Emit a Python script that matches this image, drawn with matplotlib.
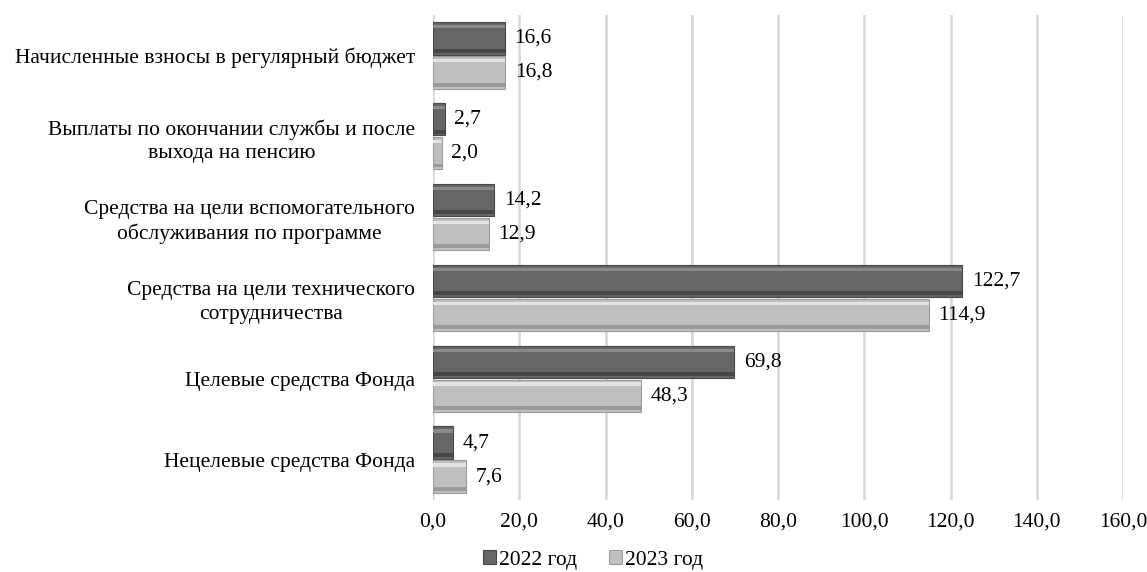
import matplotlib
matplotlib.use("Agg")
import matplotlib.pyplot as plt
import numpy as np

categories = [
    "Начисленные взносы в регулярный бюджет",
    "Выплаты по окончании службы и после\nвыхода на пенсию",
    "Средства на цели вспомогательного\nобслуживания по программе",
    "Средства на цели технического\nсотрудничества",
    "Целевые средства Фонда",
    "Нецелевые средства Фонда",
]
values_2022 = [16.6, 2.7, 14.2, 122.7, 69.8, 4.7]
values_2023 = [16.8, 2.0, 12.9, 114.9, 48.3, 7.6]
series_names = ["2022 год", "2023 год"]
xticks = [0, 20, 40, 60, 80, 100, 120, 140, 160]

plt.rcParams['font.family'] = ['Liberation Serif', 'DejaVu Serif']
FS = 15.5

fig = plt.figure(figsize=(11.47, 5.72), dpi=100)
ax = fig.add_axes([433/1147, 1 - 500/572, 690/1147, 485/572])

n = len(categories)
y = np.arange(n)[::-1].astype(float)
h = 0.40
gap = 0.02
y1 = y + (h + gap) / 2
y2 = y - (h + gap) / 2

def bevel_bars(ypos, vals, face, light, dark, label):
    ax.barh(ypos, vals, height=h, color=face, edgecolor=dark, linewidth=0.8, zorder=3, label=label)
    ax.barh(ypos + h * 0.36, vals, height=h * 0.1, color=light, linewidth=0, zorder=4)
    ax.barh(ypos - h * 0.38, vals, height=h * 0.12, color=dark, linewidth=0, zorder=4)

bevel_bars(y1, values_2022, "#666666", "#8a8a8a", "#474747", series_names[0])
bevel_bars(y2, values_2023, "#c0c0c0", "#e4e4e4", "#9a9a9a", series_names[1])

for yy, v in zip(y1, values_2022):
    ax.annotate(f"{v:.1f}".replace(".", ","), (v, yy), xytext=(7, 0), textcoords="offset points",
                va="center", ha="left", fontsize=FS, zorder=5)
for yy, v in zip(y2, values_2023):
    ax.annotate(f"{v:.1f}".replace(".", ","), (v, yy), xytext=(7, 0), textcoords="offset points",
                va="center", ha="left", fontsize=FS, zorder=5)

ax.set_xlim(0, 160)
ax.set_ylim(-0.5, n - 0.5)
ax.set_xticks(xticks)
ax.set_xticklabels([f"{t:.1f}".replace(".", ",") for t in xticks], fontsize=FS)
ax.set_yticks(y)
ax.set_yticklabels(categories, fontsize=FS)
for lbl in ax.get_yticklabels():
    lbl.set_multialignment("center")
    lbl.set_linespacing(1.3)

ax.grid(axis="x", color="#d9d9d9", linewidth=2, zorder=0)
ax.set_axisbelow(True)
for s in ax.spines.values():
    s.set_visible(False)
ax.tick_params(axis="both", length=0)
ax.tick_params(axis="x", pad=9)
ax.tick_params(axis="y", pad=13)

handles, labels = ax.get_legend_handles_labels()
fig.legend(handles[:2], labels[:2], loc="center", bbox_to_anchor=(593/1147, 1 - 560/572),
           ncol=2, frameon=False, fontsize=FS, handlelength=0.6, handleheight=0.6,
           handletextpad=0.15, columnspacing=1.5)

fig.savefig("out.png", dpi=100)
